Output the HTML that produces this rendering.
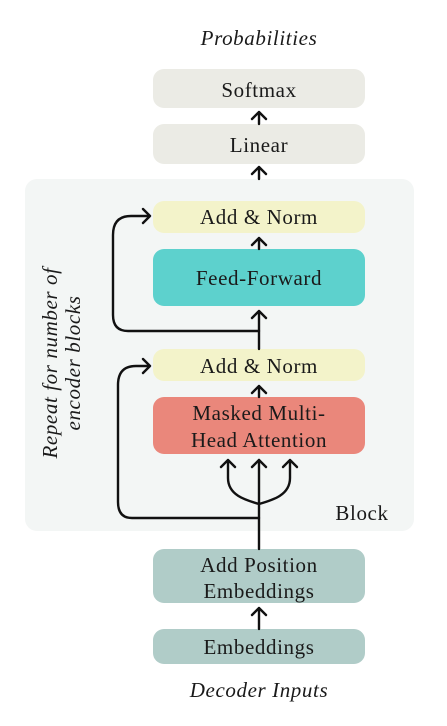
<!DOCTYPE html>
<html><head><meta charset="utf-8"><style>
html,body{margin:0;padding:0;background:#fff;}
svg{display:block;}
text{font-family:"Liberation Serif",serif;fill:#1a1a1a;letter-spacing:0.6px;}
</style></head><body>
<svg width="447" height="726" viewBox="0 0 447 726" xmlns="http://www.w3.org/2000/svg">
<rect x="25" y="179" width="389" height="352" rx="12" fill="#f3f6f5"/>
<text x="259" y="45" font-size="21" font-style="italic" text-anchor="middle">Probabilities</text>
<rect x="153" y="69" width="212" height="39" rx="11" fill="#ebebe5"/>
<text x="259" y="97" font-size="21" text-anchor="middle">Softmax</text>
<rect x="153" y="124" width="212" height="40" rx="11" fill="#ebebe5"/>
<text x="259" y="152" font-size="21" text-anchor="middle">Linear</text>
<rect x="153" y="201" width="212" height="32" rx="11" fill="#f3f3ca"/>
<text x="259" y="224" font-size="21" text-anchor="middle">Add &amp; Norm</text>
<rect x="153" y="249" width="212" height="57" rx="11" fill="#5dd1cd"/>
<text x="259" y="285" font-size="21" text-anchor="middle">Feed-Forward</text>
<rect x="153" y="349" width="212" height="32" rx="11" fill="#f3f3ca"/>
<text x="259" y="373" font-size="21" text-anchor="middle">Add &amp; Norm</text>
<rect x="153" y="397" width="212" height="57" rx="11" fill="#ea877b"/>
<text x="259" y="420" font-size="21" text-anchor="middle">Masked Multi-</text>
<text x="259" y="447" font-size="21" text-anchor="middle">Head Attention</text>
<rect x="153" y="549" width="212" height="54" rx="11" fill="#b0ccc8"/>
<text x="259" y="572" font-size="21" text-anchor="middle">Add Position</text>
<text x="259" y="598" font-size="21" text-anchor="middle">Embeddings</text>
<rect x="153" y="629" width="212" height="35" rx="11" fill="#b0ccc8"/>
<text x="259" y="654" font-size="21" text-anchor="middle">Embeddings</text>
<text x="259" y="697" font-size="21" font-style="italic" text-anchor="middle">Decoder Inputs</text>
<text x="362" y="520" font-size="21" text-anchor="middle">Block</text>
<g transform="translate(63,363) rotate(-90)">
<text x="0" y="-6" font-size="21" font-style="italic" text-anchor="middle">Repeat  for number of</text>
<text x="0" y="17" font-size="21" font-style="italic" text-anchor="middle">encoder blocks</text>
</g>
<g fill="none" stroke="#111" stroke-width="2.4" stroke-linecap="round" stroke-linejoin="round">
<path d="M259 124 V112 M252 119 L259 112 L266 119"/>
<path d="M259 179 V167 M252 174 L259 167 L266 174"/>
<path d="M259 249 V238 M252 245 L259 238 L266 245"/>
<path d="M259 397 V386 M252 393 L259 386 L266 393"/>
<path d="M259 629 V608 M252 615 L259 608 L266 615"/>
<path d="M259 549 V460"/>
<path d="M252 467 L259 460 L266 467"/>
<path d="M259 349 V311 M252 318 L259 311 L266 318"/>
<path d="M259 504 C245 500 228 495 228 478 V460 M221 467 L228 460 L235 467"/>
<path d="M259 504 C273 500 290 495 290 478 V460 M283 467 L290 460 L297 467"/>
<path d="M259 518 H132 Q118 518 118 502 V385 Q118 366 136 366 H150 M143 359 L150 366 L143 373"/>
<path d="M259 331 H128 Q113 331 113 315 V235 Q113 216 131 216 H150 M143 209 L150 216 L143 223"/>
</g>
</svg>
</body></html>
